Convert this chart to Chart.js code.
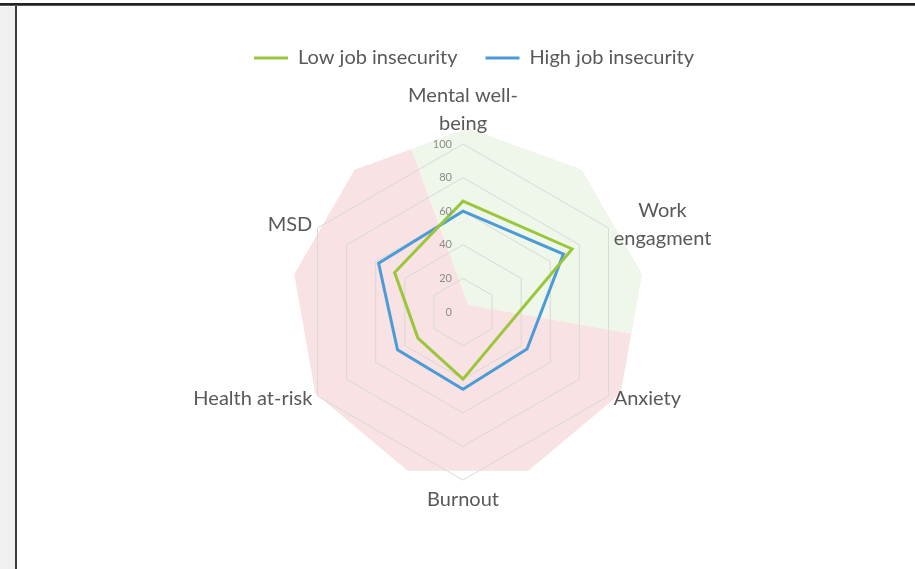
<!DOCTYPE html>
<html>
<head>
<meta charset="utf-8">
<script src="https://cdn.jsdelivr.net/npm/chart.js@4"></script>
<style>
  html, body { margin: 0; padding: 0; background: #fff; }
  body { width: 915px; height: 569px; position: relative; overflow: hidden; }
  .topRule { position: absolute; left: 0; top: 3px; width: 915px; height: 2px; background: #222; }
  .topRule2 { position: absolute; left: 0; top: 5px; width: 915px; height: 1px; background: #555; }
  .sideStrip { position: absolute; left: 0; top: 7px; width: 15px; height: 562px; background: #f0f0f0; }
  .sideRule { position: absolute; left: 15px; top: 6px; width: 2px; height: 563px; background: #3a3a3a; }
  .chartBox { position: absolute; left: 17px; top: 7px; width: 898px; height: 562px; }
</style>
</head>
<body>
<div class="topRule"></div>
<div class="topRule2"></div>
<div class="sideStrip"></div>
<div class="sideRule"></div>
<div class="chartBox"><canvas id="radar"></canvas></div>
<script>
// outcome categories around the web
const outcomes = [
    ['Mental well-', 'being'],
    ['Work', 'engagment'],
    'Anxiety',
    'Burnout',
    'Health at-risk',
    'MSD'
];
const lowInsecurity = [66, 75, 26, 40, 31, 47];
const highInsecurity = [60, 69, 44, 46, 45, 58];
const radialTicks = [0, 20, 40, 60, 80, 100];

const labelFont = 'Lato, "Open Sans", sans-serif';

// shaded backdrop: green for the positive outcomes, pink for the rest
const backdropZones = {
    id: 'backdropZones',
    beforeDraw(chart) {
        const s = chart.scales.r;
        const ctx = chart.ctx;
        const cx = s.xCenter + 5;
        const cy = s.yCenter - 7;
        const R = s.drawingArea * 1.05;
        const sides = 9;

        ctx.save();
        ctx.beginPath();
        ctx.rect(0, 0, chart.width, s.yCenter + s.drawingArea * 0.95);
        ctx.clip();

        ctx.beginPath();
        for (let k = 0; k < sides; k++) {
            const a = (-90 + k * 360 / sides) * Math.PI / 180;
            const x = cx + R * Math.cos(a);
            const y = cy + R * Math.sin(a);
            if (k === 0) ctx.moveTo(x, y); else ctx.lineTo(x, y);
        }
        ctx.closePath();
        ctx.fillStyle = '#f9e2e3';
        ctx.fill();
        ctx.clip();

        const a0 = -110 * Math.PI / 180;
        const a1 = 10 * Math.PI / 180;
        ctx.beginPath();
        ctx.moveTo(cx, cy);
        ctx.arc(cx, cy, R * 2, a0, a1);
        ctx.closePath();
        ctx.fillStyle = '#eff6ea';
        ctx.fill();
        ctx.restore();
    }
};

// tick values sit just left of the vertical axis
const sideTicks = {
    id: 'sideTicks',
    afterDraw(chart) {
        const s = chart.scales.r;
        const ctx = chart.ctx;
        ctx.save();
        ctx.font = '11px ' + labelFont;
        ctx.fillStyle = '#8c8c8c';
        ctx.textAlign = 'right';
        ctx.textBaseline = 'middle';
        radialTicks.forEach(v => {
            const y = s.yCenter - s.getDistanceFromCenterForValue(v);
            ctx.fillText(String(v), s.xCenter - 11, y);
        });
        ctx.restore();
    }
};

// category names: side labels centred on their spoke, top/bottom ones stacked outward
const outerLabels = {
    id: 'outerLabels',
    afterDraw(chart) {
        const s = chart.scales.r;
        const ctx = chart.ctx;
        const lineH = 28;
        ctx.save();
        ctx.font = '20px ' + labelFont;
        ctx.fillStyle = '#595959';
        ctx.textAlign = 'center';
        ctx.textBaseline = 'middle';
        outcomes.forEach((label, i) => {
            const lines = [].concat(label);
            const pos = s.getPointPosition(i, s.drawingArea + 6);
            const deg = Math.round(s.getIndexAngle(i) * 180 / Math.PI) % 360;
            const boxW = Math.max(...lines.map(t => ctx.measureText(t).width));
            const boxH = lines.length * lineH;
            let left = pos.x - boxW / 2;
            if (deg > 0 && deg < 180) left = pos.x;
            if (deg > 180) left = pos.x - boxW;
            let top = pos.y - boxH / 2;
            if (deg === 0) top = pos.y - boxH;
            if (deg === 180) top = pos.y;
            lines.forEach((t, k) => ctx.fillText(t, left + boxW / 2, top + lineH * (k + 0.5)));
        });
        ctx.restore();
    }
};

// shift the legend row a little to the right of the plot centre
const legendNudge = {
    id: 'legendNudge',
    afterLayout(chart) {
        chart.legend.left += 22;
    }
};

new Chart(document.getElementById('radar'), {
    type: 'radar',
    data: {
        labels: outcomes,
        datasets: [
            {
                label: 'Low job insecurity',
                data: lowInsecurity,
                borderColor: '#9ac73a',
                backgroundColor: '#9ac73a',
                borderWidth: 3,
                fill: false,
                pointRadius: 0,
                pointHoverRadius: 0
            },
            {
                label: 'High job insecurity',
                data: highInsecurity,
                borderColor: '#4b9bd6',
                backgroundColor: '#4b9bd6',
                borderWidth: 3,
                fill: false,
                pointRadius: 0,
                pointHoverRadius: 0
            }
        ]
    },
    options: {
        responsive: true,
        maintainAspectRatio: false,
        animation: false,
        elements: { line: { tension: 0 } },
        layout: { padding: { top: 13, right: 6, bottom: 88, left: 0 } },
        plugins: {
            tooltip: { enabled: false },
            legend: {
                position: 'top',
                labels: {
                    usePointStyle: true,
                    pointStyle: 'line',
                    pointStyleWidth: 34,
                    padding: 28,
                    color: '#595959',
                    font: { family: labelFont, size: 20 }
                }
            },
            // empty title used as a spacer between the legend and the web
            title: {
                display: true,
                text: '',
                weight: 500,
                font: { size: 10, lineHeight: 1 },
                padding: { top: 56, bottom: 0 }
            }
        },
        scales: {
            r: {
                min: 0,
                max: 100,
                ticks: { stepSize: 20, display: false },
                grid: { color: '#d9d9d9', lineWidth: 1 },
                angleLines: { display: false },
                pointLabels: { display: false }
            }
        }
    },
    plugins: [backdropZones, sideTicks, outerLabels, legendNudge]
});
</script>
</body>
</html>
